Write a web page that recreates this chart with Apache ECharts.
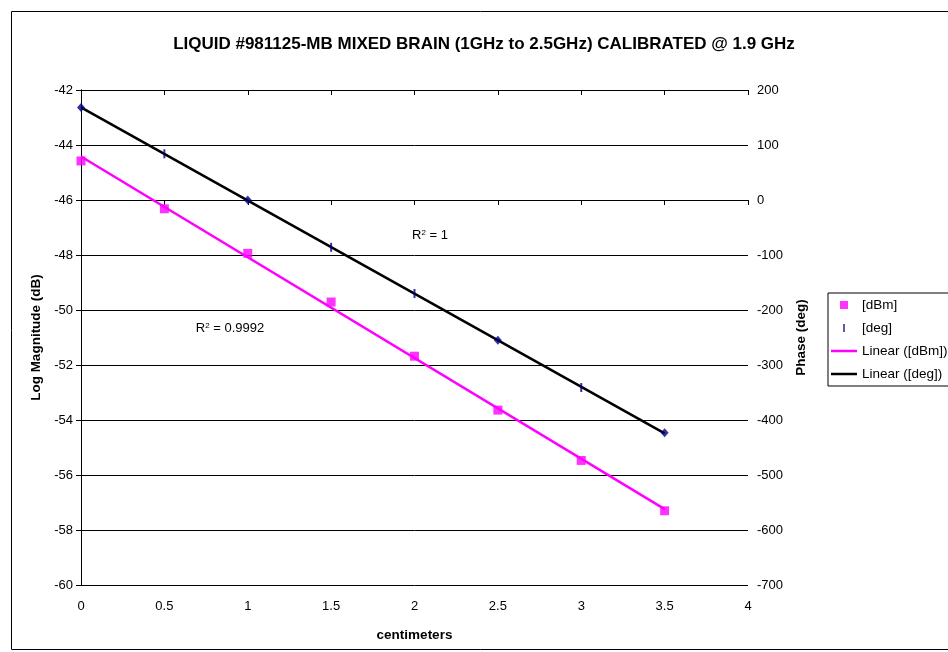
<!DOCTYPE html>
<html>
<head>
<meta charset="utf-8">
<script src="https://cdn.jsdelivr.net/npm/echarts@6/dist/echarts.min.js"></script>
<style>
  html, body { margin: 0; padding: 0; background: #fff; }
  #chart { width: 948px; height: 652px; }
</style>
</head>
<body>
<div id="chart"></div>
<script>
var distance = [0, 0.5, 1, 1.5, 2, 2.5, 3, 3.5]
var magDbm = [-44.58, -46.32, -47.94, -49.71, -51.68, -53.64, -55.47, -57.30]
var phaseDeg = [168, 84, 0, -86, -170, -255, -341, -423]
var r2Labels = ['R{sup|2} = 1', 'R{sup|2} = 0.9992']

var FONT = 'Liberation Sans, Arial, sans-serif'

// least squares fit, used for the two trendlines
function linearFit(xs, ys) {
  var n = xs.length, sx = 0, sy = 0, sxy = 0, sxx = 0
  for (var i = 0; i < n; i++) {
    sx += xs[i]; sy += ys[i]; sxy += xs[i] * ys[i]; sxx += xs[i] * xs[i]
  }
  var m = (n * sxy - sx * sy) / (n * sxx - sx * sx)
  var b = (sy - m * sx) / n
  var x0 = xs[0], x1 = xs[n - 1]
  return [[x0, b + m * x0], [x1, b + m * x1]]
}

function pairs(xs, ys) {
  return xs.map(function (x, i) { return [x, ys[i]] })
}

var chart = echarts.init(document.getElementById('chart'))

var axisText = { color: '#000', fontSize: 13, fontFamily: FONT }
var nameText = { color: '#000', fontSize: 13.5, fontWeight: 'bold', fontFamily: FONT }
var r2Style = {
  align: 'center',
  verticalAlign: 'middle',
  fill: '#000',
  fontSize: 13,
  fontFamily: FONT,
  rich: { sup: { fontSize: 8, verticalAlign: 'top', fontFamily: FONT, fill: '#000' } }
}

chart.setOption({
  animation: false,
  title: {
    text: 'LIQUID #981125-MB MIXED BRAIN (1GHz to 2.5GHz) CALIBRATED @ 1.9 GHz',
    left: 479,
    top: 31,
    textAlign: 'center',
    textStyle: { color: '#000', fontSize: 17, fontWeight: 'bold', fontFamily: FONT }
  },
  grid: { left: 81, right: 200, top: 90, bottom: 67, containLabel: false },
  legend: {
    orient: 'vertical',
    left: 828,
    top: 293,
    padding: [5, 6, 5, 3],
    itemGap: 9,
    itemWidth: 26,
    itemHeight: 8,
    borderColor: '#000',
    borderWidth: 1,
    borderRadius: 0,
    textStyle: { color: '#000', fontSize: 13.5, fontFamily: FONT },
    data: [
      { name: '[dBm]', icon: 'path://M0,0L1,0L1,1L0,1Z' },
      { name: '[deg]', icon: 'path://M0,0L1,0L1,5L0,5Z' },
      { name: 'Linear ([dBm])', icon: 'path://M0,0L26,0L26,2.5L0,2.5Z' },
      { name: 'Linear ([deg])', icon: 'path://M0,0L26,0L26,2.5L0,2.5Z' }
    ]
  },
  xAxis: [{
    type: 'value',
    min: 0,
    max: 4,
    interval: 0.5,
    name: 'centimeters',
    nameLocation: 'middle',
    nameGap: 43,
    nameTextStyle: nameText,
    axisLine: { lineStyle: { color: '#000', width: 1 } },
    axisTick: { show: true, length: 5, lineStyle: { color: '#000' } },
    axisLabel: Object.assign({ margin: 15 }, axisText),
    splitLine: { show: false }
  }, {
    type: 'value',
    position: 'top',
    min: 0,
    max: 4,
    interval: 0.5,
    axisLine: { show: false },
    axisTick: { show: true, inside: true, length: 5, lineStyle: { color: '#000' } },
    axisLabel: { show: false },
    splitLine: { show: false }
  }],
  yAxis: [{
    type: 'value',
    min: -60,
    max: -42,
    interval: 2,
    name: 'Log Magnitude (dB)',
    nameLocation: 'middle',
    nameGap: 38,
    nameTextStyle: nameText,
    axisLine: { show: true, lineStyle: { color: '#000', width: 1 } },
    axisTick: { show: true, length: 5, lineStyle: { color: '#000' } },
    axisLabel: Object.assign({ margin: 8 }, axisText),
    splitLine: { show: true, lineStyle: { color: '#000', width: 1 } }
  }, {
    type: 'value',
    position: 'right',
    min: -700,
    max: 200,
    interval: 100,
    name: 'Phase (deg)',
    nameLocation: 'middle',
    nameGap: 45,
    nameRotate: 90,
    nameTextStyle: nameText,
    axisLine: { show: true, lineStyle: { color: '#000', width: 1 } },
    axisTick: { show: true, length: 5, lineStyle: { color: '#000' } },
    axisLabel: Object.assign({ margin: 9 }, axisText),
    splitLine: { show: false }
  }],
  series: [{
    name: '[dBm]',
    type: 'scatter',
    yAxisIndex: 0,
    symbol: 'rect',
    symbolSize: 9,
    itemStyle: { color: '#FF00FF' },
    z: 5,
    data: pairs(distance, magDbm)
  }, {
    name: '[deg]',
    type: 'scatter',
    yAxisIndex: 1,
    // some points show as diamonds in the original, the rest as dashes
    symbol: function (v) {
      return [0, 1, 2.5, 3.5].indexOf(v[0]) >= 0 ? 'diamond' : 'rect'
    },
    symbolSize: function (v) {
      return [0, 1, 2.5, 3.5].indexOf(v[0]) >= 0 ? [8, 9] : [2, 9]
    },
    itemStyle: { color: '#000080' },
    z: 5,
    data: pairs(distance, phaseDeg)
  }, {
    name: 'Linear ([dBm])',
    type: 'line',
    yAxisIndex: 0,
    symbol: 'none',
    lineStyle: { color: '#FF00FF', width: 2.5 },
    itemStyle: { color: '#FF00FF' },
    z: 3,
    data: linearFit(distance, magDbm)
  }, {
    name: 'Linear ([deg])',
    type: 'line',
    yAxisIndex: 1,
    symbol: 'none',
    lineStyle: { color: '#000', width: 2.5 },
    itemStyle: { color: '#000' },
    z: 3,
    data: linearFit(distance, phaseDeg)
  }],
  graphic: [{
    type: 'rect',
    shape: { x: 11.5, y: 11.5, width: 1000, height: 638 },
    style: { fill: 'none', stroke: '#000', lineWidth: 1 },
    silent: true,
    z: -10
  }, {
    type: 'text',
    x: 430,
    y: 235,
    style: Object.assign({ text: r2Labels[0] }, r2Style)
  }, {
    type: 'text',
    x: 230,
    y: 328,
    style: Object.assign({ text: r2Labels[1] }, r2Style)
  }]
})
</script>
</body>
</html>
